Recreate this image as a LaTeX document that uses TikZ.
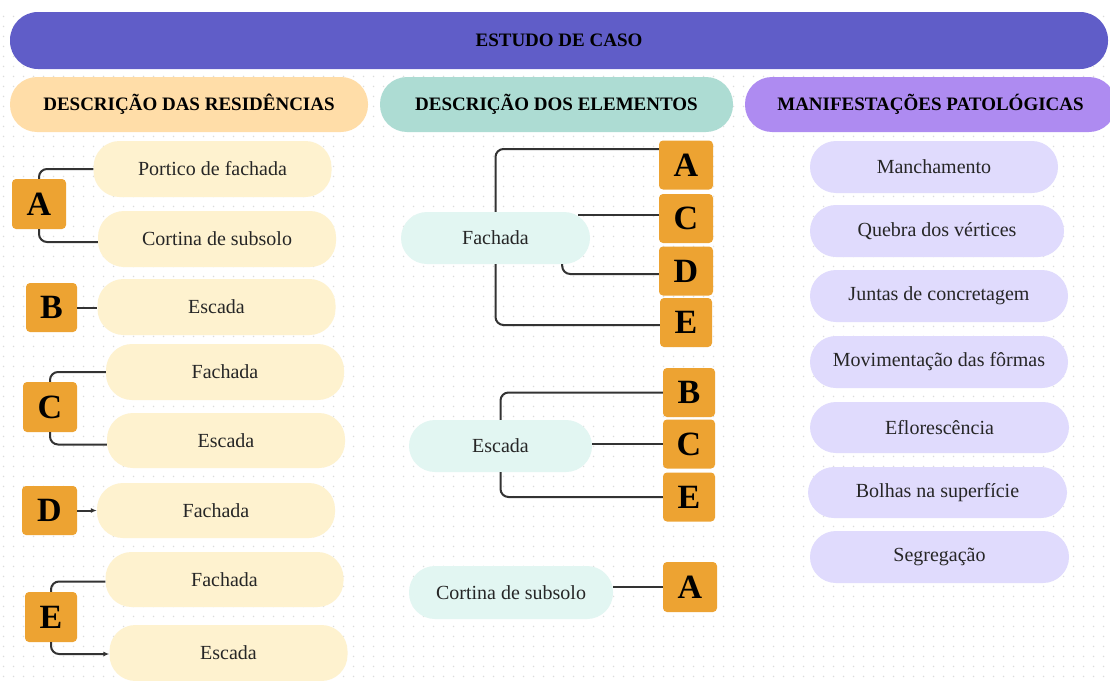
\documentclass[tikz,border=0pt]{standalone}
\usepackage{fontspec}
\setmainfont{Liberation Serif}
\usetikzlibrary{arrows.meta,patterns}
\definecolor{banner}{HTML}{605DC8}
\definecolor{hOne}{HTML}{FFDDA8}
\definecolor{hTwo}{HTML}{ADDCD3}
\definecolor{hThree}{HTML}{AE8BF1}
\definecolor{itemL}{HTML}{FEF2CF}
\definecolor{itemM}{HTML}{E2F6F2}
\definecolor{itemR}{HTML}{E0DBFD}
\definecolor{tagC}{HTML}{EDA332}
\definecolor{lineC}{HTML}{333333}
\definecolor{dotC}{HTML}{DCDCDC}
\pgfdeclarepatternformonly{bgdots}{\pgfpointorigin}{\pgfpoint{10pt}{10pt}}{\pgfpoint{10pt}{10pt}}{\pgfpathcircle{\pgfpoint{5pt}{5pt}}{0.9pt}\pgfusepath{fill}}
\begin{document}
\begin{tikzpicture}[x=1pt,y=-1pt,
 pill/.style={rounded corners=26pt, inner sep=0pt, minimum height=54pt, font=\fontsize{20}{23}\selectfont, text=black!85},
 pillL/.style={pill, fill=itemL, minimum width=238pt},
 pillM/.style={pill, fill=itemM, minimum height=52pt},
 pillR/.style={pill, fill=itemR, minimum height=52pt},
 hdr/.style={rounded corners=27pt, inner sep=0pt, minimum height=55pt, font=\bfseries\fontsize{19}{22}\selectfont, text=black},
 tag/.style={fill=tagC, rounded corners=4pt, inner sep=0pt, minimum width=53pt, minimum height=49pt, font=\bfseries\fontsize{34}{34}\selectfont, text=black},
 conn/.style={draw=lineC, line width=2pt, rounded corners=8pt},
 tip/.style={-{Latex[length=6pt,width=5pt]}},
]
\useasboundingbox (0,0) rectangle (1110,680);
\fill[white] (0,0) rectangle (1110,680);
\fill[pattern=bgdots, pattern color=dotC] (0,13) rectangle (1110,680);

% headers
\node[hdr, fill=banner, minimum width=1098pt, minimum height=57pt, rounded corners=28pt] (top) at (559,40.5) {ESTUDO DE CASO};
\node[hdr, fill=hOne, minimum width=358pt] (h1) at (189,104.5) {DESCRIÇÃO DAS RESIDÊNCIAS};
\node[hdr, fill=hTwo, minimum width=353pt] (h2) at (556.5,104.5) {DESCRIÇÃO DOS ELEMENTOS};
\node[hdr, fill=hThree, minimum width=371pt] (h3) at (930.5,104.5) {MANIFESTAÇÕES PATOLÓGICAS};

% left column
\node[pillL, minimum height=56pt] (l1) at (212.5,169) {Portico de fachada};
\node[pillL, minimum height=56pt] (l2) at (217,239) {Cortina de subsolo};
\node[pillL, minimum height=56pt] (l3) at (216.5,307) {Escada};
\node[pillL, minimum height=56pt] (l4) at (225,372) {Fachada};
\node[pillL, minimum height=55pt] (l5) at (226,440.5) {Escada};
\node[pillL, minimum height=55pt] (l6) at (216,510.5) {Fachada};
\node[pillL, minimum height=55pt] (l7) at (224.5,579.5) {Fachada};
\node[pillL, minimum height=56pt] (l8) at (228.5,653) {Escada};

\node[tag, minimum width=54pt, minimum height=50pt] (tA) at (39,204) {A};
\node[tag, minimum width=51pt] (tB) at (51.5,307.5) {B};
\node[tag, minimum width=54pt, minimum height=50pt] (tC) at (50,407) {C};
\node[tag, minimum width=55pt] (tD) at (49.5,510.5) {D};
\node[tag, minimum width=52pt, minimum height=50pt] (tE) at (51,617) {E};

\draw[conn] (tA.north) |- (l1.west);
\draw[conn] (tA.south) |- ([yshift=-3pt]l2.west);
\draw[conn] (tB.east) -- (tB.east -| l3.west);
\draw[conn] (tC.north) |- (l4.west);
\draw[conn] (tC.south) |- ([yshift=-4pt]l5.west);
\draw[conn, tip] (tD.east) -- (tD.east -| l6.west);
\draw[conn] (tE.north) |- ([yshift=-2pt]l7.west);
\draw[conn, tip] (tE.south) |- ([yshift=-1pt]l8.west);

% middle column
\node[pillM, minimum width=189pt] (mf) at (495.5,238) {Fachada};
\node[tag, minimum width=54pt] (mA) at (686,165) {A};
\node[tag, minimum width=54pt] (mC) at (686,218.5) {C};
\node[tag, minimum width=54pt] (mD) at (686,271) {D};
\node[tag, minimum width=52pt] (mE) at (686,322.5) {E};
\coordinate (mfr) at ([xshift=-12pt]mf.east);
\draw[conn] (mf.north) |- ([yshift=16pt]mA.west);
\draw[conn] ([yshift=3.5pt]mC.west) -- ([yshift=3.5pt]mC.west -| mfr);
\draw[conn] ([xshift=-28pt]mf.south east) |- ([yshift=-3pt]mD.west);
\draw[conn] (mf.south) |- ([yshift=-2.5pt]mE.west);

\node[pillM, minimum width=183pt] (me) at (500.5,446) {Escada};
\node[tag, minimum width=52pt] (mB2) at (689,392.5) {B};
\node[tag, minimum width=52pt] (mC2) at (689,444) {C};
\node[tag, minimum width=52pt] (mE2) at (689,497) {E};
\draw[conn] (me.north) |- (mB2.west);
\draw[conn] (mC2.west) -- (mC2.west -| me.east);
\draw[conn] (me.south) |- (mE2.west);

\node[pillM, minimum width=204pt, minimum height=53pt] (mc) at (511,592.5) {Cortina de subsolo};
\node[tag, minimum width=54pt, minimum height=50pt] (mA3) at (690,587) {A};
\draw[conn] (mA3.west) -- (mA3.west -| mc.east);

% right column
\node[pillR, minimum width=248pt] (r1) at (934,167) {Manchamento};
\node[pillR, minimum width=254pt] (r2) at (937,231) {Quebra dos vértices};
\node[pillR, minimum width=258pt] (r3) at (939,296) {Juntas de concretagem};
\node[pillR, minimum width=258pt] (r4) at (939,362) {Movimentação das fôrmas};
\node[pillR, minimum width=259pt, minimum height=51pt] (r5) at (939.5,427.5) {Eflorescência};
\node[pillR, minimum width=259pt, minimum height=51pt] (r6) at (937.5,492.5) {Bolhas na superfície};
\node[pillR, minimum width=259pt] (r7) at (939.5,557) {Segregação};
\end{tikzpicture}
\end{document}
